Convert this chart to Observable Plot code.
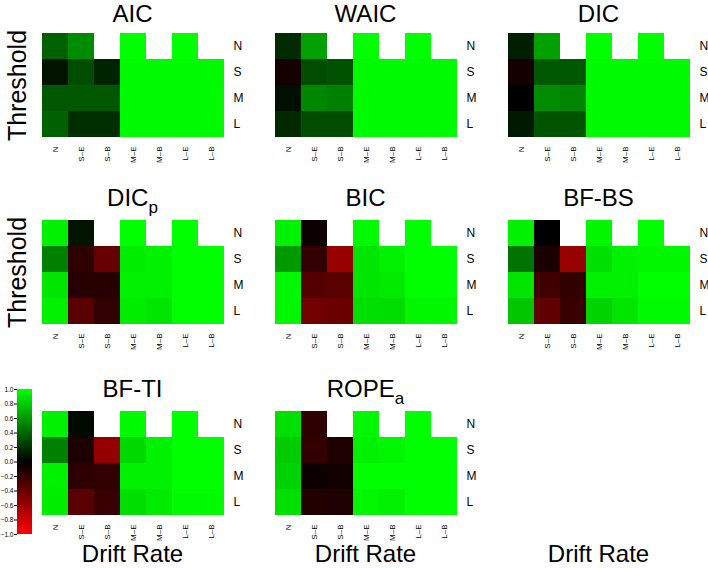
<!DOCTYPE html>
<html>
<head>
<meta charset="utf-8">
<script src="https://cdn.jsdelivr.net/npm/d3@7"></script>
<script src="https://cdn.jsdelivr.net/npm/@observablehq/plot@0.6"></script>
<style>
  body { margin: 0; background: #fff; font-family: "Liberation Sans", Arial, sans-serif; }
  #root { position: relative; width: 708px; height: 568px; overflow: hidden; }
  .abs { position: absolute; }
  .abs svg { max-width: none !important; display: block; overflow: visible; }
  .title { position: absolute; width: 187px; text-align: center; font-size: 24px; line-height: 24px; color: #000; }
  .title sub { font-size: 17px; vertical-align: -7px; line-height: 0; }
  .xlab { position: absolute; width: 187px; text-align: center; font-size: 24px; line-height: 20px; }
  .ylab { position: absolute; font-size: 25px; line-height: 25px; transform: rotate(-90deg); transform-origin: center center; width: 120px; text-align: center; }
</style>
</head>
<body>
<div id="root"></div>
<script>
// Categories
const cols = ["N", "S–E", "S–B", "M–E", "M–B", "L–E", "L–B"];
const rows = ["N", "S", "M", "L"];
const panelNames = ["AIC", "WAIC", "DIC", "DICp", "BIC", "BF-BS", "BF-TI", "ROPEa"];
const colorTicks = [-1, -0.8, -0.6, -0.4, -0.2, 0, 0.2, 0.4, 0.6, 0.8, 1];

// Values per panel: rows N,S,M,L x columns N,S–E,S–B,M–E,M–B,L–E,L–B (null = no cell)
const AIC = [
  [0.38, 0.55, null, 1.00, null, 1.00, null],
  [0.08, 0.30, 0.14, 0.98, 0.98, 0.98, 0.98],
  [0.35, 0.35, 0.35, 0.98, 0.98, 0.98, 0.98],
  [0.38, 0.18, 0.18, 0.98, 0.98, 0.98, 0.98]
];
const WAIC = [
  [0.17, 0.63, null, 1.00, null, 1.00, null],
  [-0.08, 0.30, 0.32, 0.98, 0.98, 0.98, 0.98],
  [0.06, 0.53, 0.50, 0.98, 0.98, 0.98, 0.98],
  [0.16, 0.30, 0.30, 0.98, 0.98, 0.98, 0.98]
];
const DIC = [
  [0.12, 0.63, null, 1.00, null, 1.00, null],
  [-0.08, 0.35, 0.35, 0.98, 0.98, 0.98, 0.98],
  [0.00, 0.55, 0.52, 0.98, 0.98, 0.98, 0.98],
  [0.10, 0.33, 0.33, 0.98, 0.98, 0.98, 0.98]
];
const DICp = [
  [0.95, 0.08, null, 1.00, null, 1.00, null],
  [0.50, -0.18, -0.40, 0.93, 0.95, 1.00, 1.00],
  [0.90, -0.15, -0.15, 0.95, 0.95, 1.00, 1.00],
  [0.95, -0.35, -0.20, 0.93, 0.90, 1.00, 1.00]
];
const BIC = [
  [0.95, -0.05, null, 0.98, null, 1.00, null],
  [0.60, -0.20, -0.60, 0.90, 0.95, 1.00, 1.00],
  [0.97, -0.33, -0.35, 0.90, 0.92, 1.00, 1.00],
  [0.97, -0.45, -0.42, 0.88, 0.87, 0.97, 0.97]
];
const BFBS = [
  [0.95, 0.00, null, 0.97, null, 1.00, null],
  [0.45, -0.10, -0.60, 0.88, 0.95, 0.97, 0.97],
  [0.90, -0.25, -0.20, 0.95, 0.95, 1.00, 1.00],
  [0.78, -0.38, -0.22, 0.83, 0.90, 0.98, 0.98]
];
const BFTI = [
  [0.95, 0.03, null, 0.98, null, 1.00, null],
  [0.50, -0.12, -0.58, 0.85, 0.95, 1.00, 1.00],
  [0.95, -0.18, -0.20, 0.95, 0.95, 1.00, 1.00],
  [0.93, -0.35, -0.22, 0.87, 0.92, 0.98, 0.98]
];
const ROPEa = [
  [0.88, -0.18, null, 0.97, null, 1.00, null],
  [0.80, -0.20, -0.12, 0.95, 0.97, 1.00, 1.00],
  [0.82, -0.05, -0.07, 1.00, 1.00, 1.00, 1.00],
  [0.88, -0.13, -0.12, 0.97, 0.95, 1.00, 1.00]
];
const panelValues = [AIC, WAIC, DIC, DICp, BIC, BFBS, BFTI, ROPEa];

const FONT = "'Liberation Sans', Arial, sans-serif";
const colorScale = {
  type: "linear", domain: [-1, 0, 1],
  range: ["#ff0000", "#000000", "#00ff00"], interpolate: "rgb"
};

const HW = 187, HH = 106;
const colLeft = [39, 272, 505];
const rowTop = [32, 219, 410];
const root = document.getElementById("root");

function heat(vals) {
  const data = [];
  rows.forEach((r, i) => cols.forEach((c, j) => {
    const v = vals[i][j];
    if (v != null) data.push({row: r, col: c, v});
  }));
  return Plot.plot({
    width: HW + 30, height: HH + 32,
    marginLeft: 0, marginRight: 30, marginTop: 0, marginBottom: 32,
    style: {fontFamily: FONT, background: "transparent", color: "#000"},
    x: {domain: cols, padding: 0},
    y: {domain: rows, padding: 0},
    color: colorScale,
    marks: [
      Plot.cell(data, {x: "col", y: "row", fill: "v", inset: 0, shapeRendering: "crispEdges"}),
      Plot.axisX({anchor: "bottom", tickRotate: -90, tickSize: 0, tickPadding: 8, fontSize: 8, label: null}),
      Plot.axisY({anchor: "right", tickSize: 0, tickPadding: 7, fontSize: 12, label: null})
    ]
  });
}

panelNames.forEach((name, k) => {
  const ci = k % 3, ri = Math.floor(k / 3);
  const div = document.createElement("div");
  div.className = "abs";
  div.style.left = colLeft[ci] + "px";
  div.style.top = rowTop[ri] + "px";
  div.style.width = (HW + 30) + "px";
  div.appendChild(heat(panelValues[k]));
  root.appendChild(div);

  const t = document.createElement("div");
  t.className = "title";
  t.style.left = colLeft[ci] + "px";
  t.style.top = Math.max(2, rowTop[ri] - 33.5) + "px";
  if (name === "DICp") t.innerHTML = "DIC<sub>p</sub>";
  else if (name === "ROPEa") t.innerHTML = "ROPE<sub>a</sub>";
  else t.textContent = name;
  root.appendChild(t);
});

// Axis titles
[0, 1].forEach(ri => {
  const d = document.createElement("div");
  d.className = "ylab";
  d.textContent = "Threshold";
  d.style.left = (17 - 60) + "px";
  d.style.top = (rowTop[ri] + HH / 2 - 12.5) + "px";
  root.appendChild(d);
});
[0, 1, 2].forEach(ci => {
  const d = document.createElement("div");
  d.className = "xlab";
  d.textContent = "Drift Rate";
  d.style.left = colLeft[ci] + "px";
  d.style.top = "544px";
  root.appendChild(d);
});

// Colour bar
const steps = d3.range(-1, 1, 0.01).map(v => ({y1: v, y2: v + 0.0101, v: v + 0.005}));
const bar = Plot.plot({
  width: 36, height: 155,
  marginLeft: 20, marginRight: 1, marginTop: 5, marginBottom: 5,
  style: {fontFamily: FONT, background: "transparent", color: "#000"},
  x: {domain: [0, 1], axis: null},
  y: {domain: [-1, 1], ticks: colorTicks},
  color: colorScale,
  marks: [
    Plot.rect(steps, {x1: 0, x2: 1, y1: "y1", y2: "y2", fill: "v", shapeRendering: "crispEdges"}),
    Plot.axisY({ticks: colorTicks, tickFormat: d3.format(".1f"), tickSize: 3, tickPadding: 1, fontSize: 6.5, label: null})
  ]
});
const bd = document.createElement("div");
bd.className = "abs";
bd.style.left = "-3px";
bd.style.top = "384px";
bd.appendChild(bar);
root.appendChild(bd);
</script>
</body>
</html>
